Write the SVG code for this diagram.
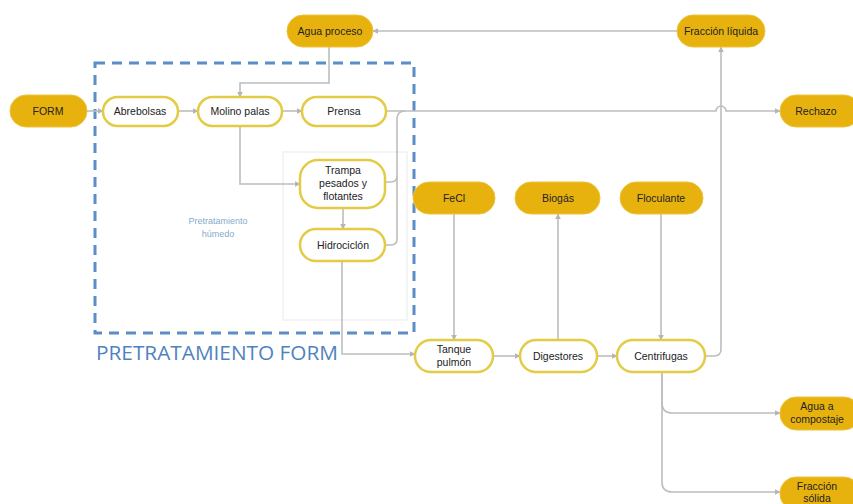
<svg xmlns="http://www.w3.org/2000/svg" width="853" height="504" viewBox="0 0 853 504">
<defs>
<style>
.f{fill:#E8B20E;stroke:#EDC23A;stroke-width:1}
.w{fill:#fff;stroke:#E3CC45;stroke-width:2.5}
.t{font-family:"Liberation Sans",Arial,sans-serif;font-size:10.5px;fill:#222;text-anchor:middle}
.c{fill:none;stroke:#BDBDBD;stroke-width:1.6}
</style>
<marker id="a" viewBox="0 0 10 10" refX="9" refY="5" markerWidth="6" markerHeight="6" orient="auto" markerUnits="userSpaceOnUse">
<path d="M0,0 L10,5 L0,10 z" fill="#B5B5B5"/>
</marker>
</defs>
<rect width="853" height="504" fill="#fff"/>
<rect x="283" y="152" width="124" height="168" fill="none" stroke="#EDEDED" stroke-width="1.2"/>
<rect x="95" y="63" width="319" height="270" fill="none" stroke="#5B8EC6" stroke-width="3" stroke-dasharray="10 7"/>
<text x="218" y="224" font-family="Liberation Sans,Arial,sans-serif" font-size="9" fill="#86ABCB" text-anchor="middle">Pretratamiento</text>
<text x="218" y="237" font-family="Liberation Sans,Arial,sans-serif" font-size="9" fill="#86ABCB" text-anchor="middle">húmedo</text>
<text x="96" y="360" font-family="Open Sans,Liberation Sans,sans-serif" font-size="20" fill="#4F83BE" textLength="242" lengthAdjust="spacingAndGlyphs">PRETRATAMIENTO FORM</text>
<g id="connectors">
<path class="c" d="M87,111 H103" marker-end="url(#a)"/>
<path class="c" d="M178,111 H198" marker-end="url(#a)"/>
<path class="c" d="M282,111 H302" marker-end="url(#a)"/>
<path class="c" d="M386,111 H716 A5,5 0 0 1 726,111 H780" marker-end="url(#a)"/>
<path class="c" d="M329,47 V83 H240 V97" marker-end="url(#a)"/>
<path class="c" d="M240,126 V184 H300" marker-end="url(#a)"/>
<path class="c" d="M343,208 V229" marker-end="url(#a)"/>
<path class="c" d="M385,182 H391 Q397,182 397,176 V119 Q397,111 405,111"/>
<path class="c" d="M385,245 H391 Q397,245 397,239 V176"/>
<path class="c" d="M342,261 V354 H415" marker-end="url(#a)"/>
<path class="c" d="M454,214 V340" marker-end="url(#a)"/>
<path class="c" d="M493,356 H520" marker-end="url(#a)"/>
<path class="c" d="M558,340 V214" marker-end="url(#a)"/>
<path class="c" d="M597,356 H617" marker-end="url(#a)"/>
<path class="c" d="M661,214 V340" marker-end="url(#a)"/>
<path class="c" d="M705,356 H714 Q721,356 721,349 V47" marker-end="url(#a)"/>
<path class="c" d="M677,31 H373" marker-end="url(#a)"/>
<path class="c" d="M662,372 V403 Q662,413 672,413 H780" marker-end="url(#a)"/>
<path class="c" d="M662,372 V482 Q662,492 672,492 H780" marker-end="url(#a)"/>
</g>
<g id="agua-proceso"><rect class="f" x="287" y="15" width="86" height="32" rx="16"/><text class="t" x="330" y="35">Agua proceso</text></g>
<g id="fraccion-liquida"><rect class="f" x="677" y="15" width="88" height="32" rx="16"/><text class="t" x="721" y="35">Fracción líquida</text></g>
<g id="form"><rect class="f" x="10" y="95" width="77" height="32" rx="16"/><text class="t" x="48" y="115">FORM</text></g>
<g id="abrebolsas"><rect class="w" x="103" y="97" width="75" height="29" rx="14.5"/><text class="t" x="140" y="115">Abrebolsas</text></g>
<g id="molino"><rect class="w" x="198" y="97" width="84" height="29" rx="14.5"/><text class="t" x="240" y="115">Molino palas</text></g>
<g id="prensa"><rect class="w" x="302" y="97" width="84" height="29" rx="14.5"/><text class="t" x="344" y="115">Prensa</text></g>
<g id="rechazo"><rect class="f" x="780" y="95" width="80" height="32" rx="16"/><text class="t" x="816" y="115">Rechazo</text></g>
<g id="trampa"><rect class="w" x="300" y="160" width="85" height="48" rx="18"/><text class="t" x="343" y="174">Trampa</text><text class="t" x="343" y="187">pesados y</text><text class="t" x="343" y="200">flotantes</text></g>
<g id="hidrociclon"><rect class="w" x="300" y="229" width="85" height="32" rx="16"/><text class="t" x="343" y="249">Hidrociclón</text></g>
<g id="fecl"><rect class="f" x="413" y="182" width="82" height="32" rx="16"/><text class="t" x="454" y="202">FeCl</text></g>
<g id="biogas"><rect class="f" x="515" y="182" width="85" height="32" rx="16"/><text class="t" x="558" y="202">Biogás</text></g>
<g id="floculante"><rect class="f" x="620" y="182" width="83" height="32" rx="16"/><text class="t" x="661" y="202">Floculante</text></g>
<g id="tanque"><rect class="w" x="415" y="340" width="78" height="32" rx="16"/><text class="t" x="454" y="353">Tanque</text><text class="t" x="454" y="366">pulmón</text></g>
<g id="digestores"><rect class="w" x="520" y="340" width="77" height="32" rx="16"/><text class="t" x="558" y="360">Digestores</text></g>
<g id="centrifugas"><rect class="w" x="617" y="340" width="88" height="32" rx="16"/><text class="t" x="661" y="360">Centrifugas</text></g>
<g id="agua-compostaje"><rect class="f" x="780" y="397" width="80" height="33" rx="16"/><text class="t" x="817" y="410">Agua a</text><text class="t" x="817" y="423">compostaje</text></g>
<g id="fraccion-solida"><rect class="f" x="780" y="477" width="80" height="33" rx="16"/><text class="t" x="817" y="490">Fracción</text><text class="t" x="817" y="502">sólida</text></g>
</svg>
